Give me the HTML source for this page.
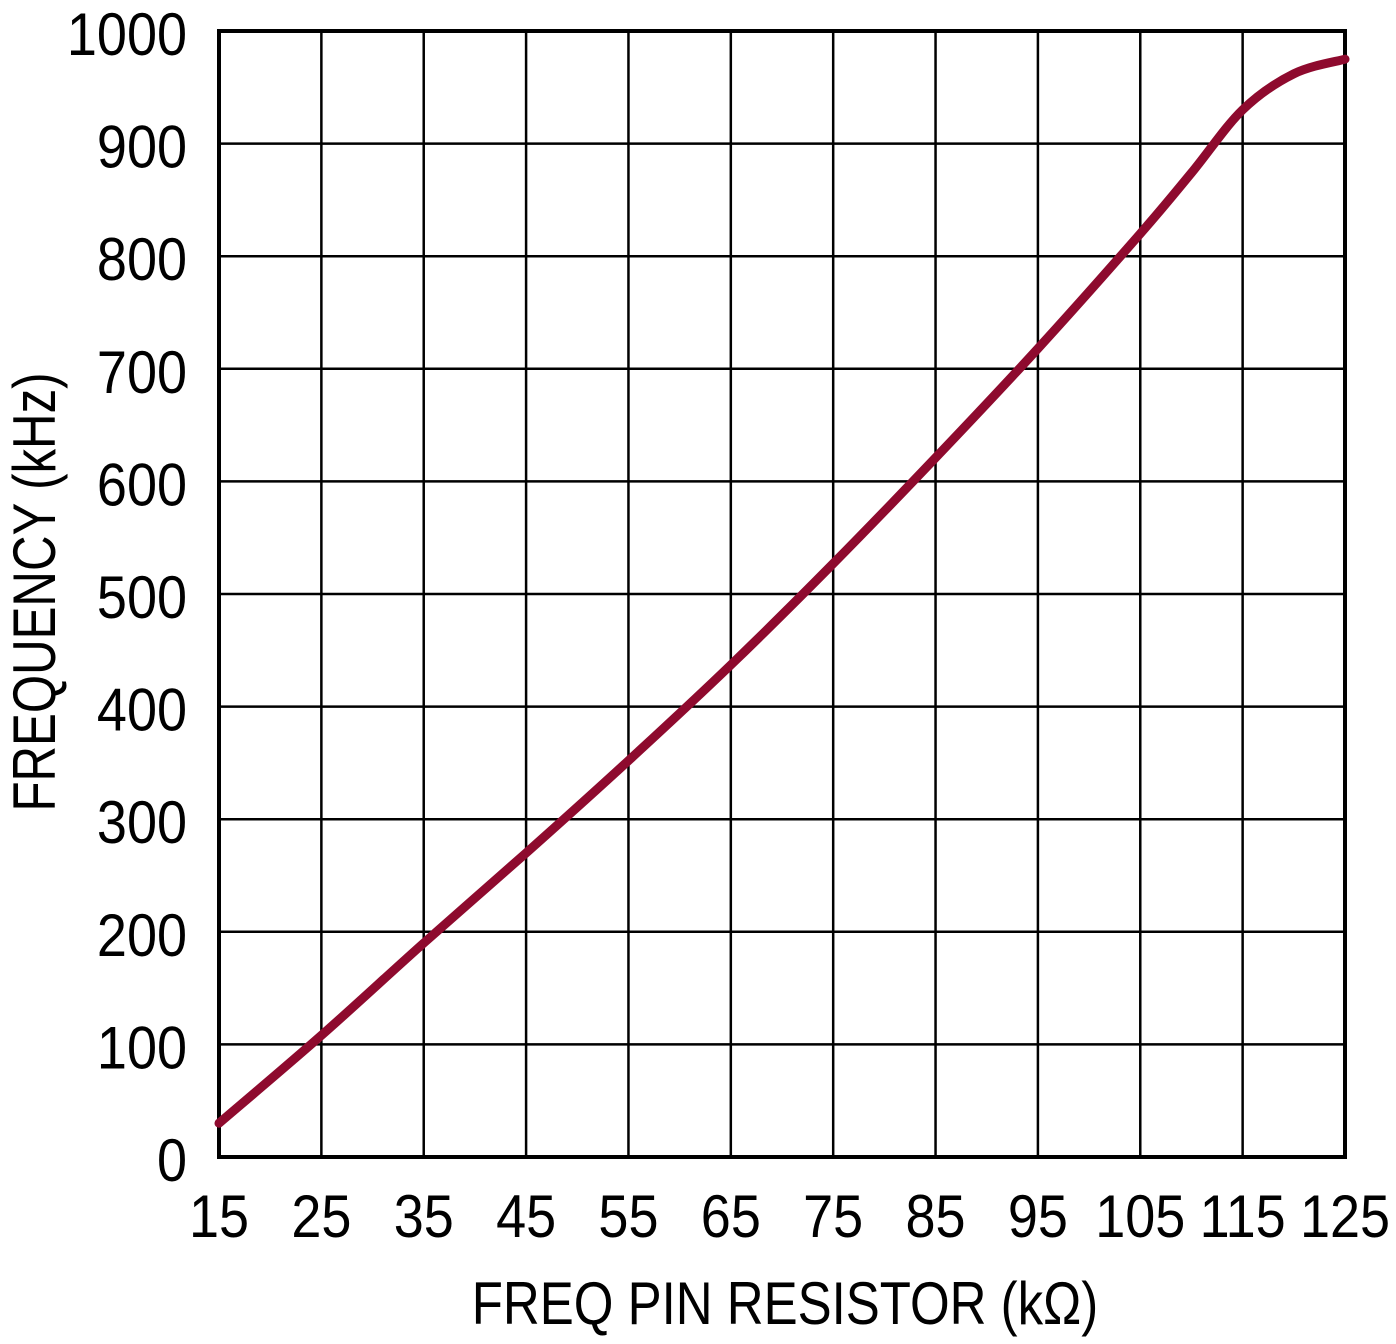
<!DOCTYPE html>
<html><head><meta charset="utf-8"><style>html,body{margin:0;padding:0;background:#fff}svg{display:block}</style></head>
<body>
<svg id="chart" width="1396" height="1344" xmlns="http://www.w3.org/2000/svg" font-family="'Liberation Sans', sans-serif"></svg>
<script>
const xTicks = [15,25,35,45,55,65,75,85,95,105,115,125];
const yTicks = [0,100,200,300,400,500,600,700,800,900,1000];
const resistance = [15,25,35,45,55,65,75,85,95,105,110,115,120,125];
const frequency = [30,108,190,270,352,437,527,621,718,820,874,930,962,975];

const L=219,R=1345,T=31,B=1157;
const sx=v=>L+(v-15)/(125-15)*(R-L);
const sy=v=>B-v/1000*(B-T);
const NS="http://www.w3.org/2000/svg";
const svg=document.getElementById('chart');
function mk(tag,attrs){const e=document.createElementNS(NS,tag);for(const k in attrs)e.setAttribute(k,attrs[k]);svg.appendChild(e);return e;}

xTicks.forEach(v=>{
  const l=mk('line',{x1:sx(v),x2:sx(v),y1:T,y2:B,stroke:'#000','stroke-width':2.5});
  
  
  const t=mk('text',{transform:`translate(${sx(v)},1237) scale(0.9,1)`,'text-anchor':'middle','font-size':60,fill:'#000'});
  t.textContent=v;
  
  
});
yTicks.forEach(v=>{
  const l=mk('line',{x1:L,x2:R,y1:sy(v),y2:sy(v),stroke:'#000','stroke-width':2.5});
  
  
  const t=mk('text',{transform:`translate(187,${sy(v)+24}) scale(0.9,1)`,'text-anchor':'end','font-size':60,fill:'#000'});
  t.textContent=v;
  
  
});
const frame=mk('rect',{x:L,y:T,width:R-L,height:B-T,fill:'none',stroke:'#000','stroke-width':4});



const pts=resistance.map((r,i)=>[sx(r),sy(frequency[i])]);
let d=`M${pts[0][0]},${pts[0][1]}`;
for(let i=0;i<pts.length-1;i++){
  const p0=pts[i-1]||pts[i],p1=pts[i],p2=pts[i+1],p3=pts[i+2]||pts[i+1];
  const c1=[p1[0]+(p2[0]-p0[0])/6,p1[1]+(p2[1]-p0[1])/6];
  const c2=[p2[0]-(p3[0]-p1[0])/6,p2[1]-(p3[1]-p1[1])/6];
  d+=` C${c1[0]},${c1[1]} ${c2[0]},${c2[1]} ${p2[0]},${p2[1]}`;
}
const curve=mk('path',{d:d,fill:'none',stroke:'#8e0a2e','stroke-width':9,'stroke-linecap':'round'});



const xt=mk('text',{transform:'translate(785,1324) scale(0.85,1)','text-anchor':'middle','font-size':60,fill:'#000'});
xt.textContent='FREQ PIN RESISTOR (kΩ)';


const yt=mk('text',{transform:'translate(55,592) rotate(-90) scale(0.82,1)','text-anchor':'middle','font-size':60,fill:'#000'});
yt.textContent='FREQUENCY (kHz)';


</script>
</body></html>
